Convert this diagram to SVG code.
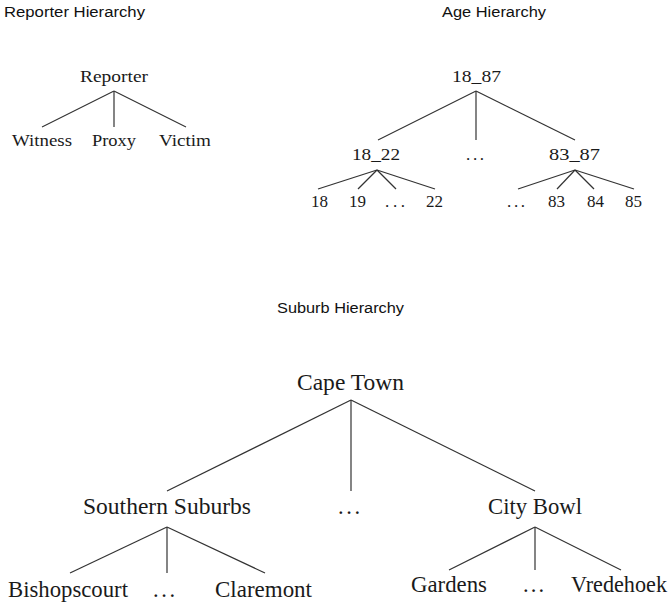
<svg xmlns="http://www.w3.org/2000/svg" width="670" height="605" viewBox="0 0 670 605">
<style>
.title{font-family:"Liberation Sans",Arial,sans-serif;font-size:15.5px;fill:#111}
.s{font-family:"Liberation Serif","Times New Roman",serif;fill:#1a1a1a}
.sm{font-size:16.5px}
.md{font-size:17px}
.lg{font-size:22.5px}
.c{text-anchor:middle}
.edges line{stroke:#333;stroke-width:1.2;fill:none}
</style>
<rect width="670" height="605" fill="#fff"/>
<g id="titles">
<text class="title" x="4" y="17" textLength="141" lengthAdjust="spacingAndGlyphs">Reporter Hierarchy</text>
<text class="title" x="442" y="17" textLength="104" lengthAdjust="spacingAndGlyphs">Age Hierarchy</text>
<text class="title" x="277" y="313" textLength="127" lengthAdjust="spacingAndGlyphs">Suburb Hierarchy</text>
</g>
<g class="edges" id="connectors">
<line x1="114" y1="91" x2="42" y2="127"/>
<line x1="114" y1="91" x2="114" y2="127"/>
<line x1="114" y1="91" x2="186" y2="127"/>
<line x1="476" y1="91" x2="378" y2="140"/>
<line x1="476" y1="91" x2="476" y2="140"/>
<line x1="476" y1="91" x2="575" y2="140"/>
<line x1="377" y1="170" x2="318" y2="189"/>
<line x1="377" y1="170" x2="358" y2="189"/>
<line x1="377" y1="170" x2="396" y2="189"/>
<line x1="377" y1="170" x2="435" y2="189"/>
<line x1="575" y1="170" x2="518" y2="189"/>
<line x1="575" y1="170" x2="557" y2="189"/>
<line x1="575" y1="170" x2="594" y2="189"/>
<line x1="575" y1="170" x2="634" y2="189"/>
<line x1="351" y1="400" x2="167" y2="491"/>
<line x1="351" y1="400" x2="351" y2="491"/>
<line x1="351" y1="400" x2="535" y2="491"/>
<line x1="167" y1="527" x2="70" y2="573"/>
<line x1="167" y1="527" x2="167" y2="573"/>
<line x1="167" y1="527" x2="265" y2="573"/>
<line x1="535" y1="527" x2="449" y2="570"/>
<line x1="535" y1="527" x2="535" y2="570"/>
<line x1="535" y1="527" x2="621" y2="570"/>
</g>
<g id="reporter"><text class="s sm" x="80" y="82" textLength="68" lengthAdjust="spacingAndGlyphs">Reporter</text></g>
<g id="witness"><text class="s sm" x="12" y="146" textLength="60" lengthAdjust="spacingAndGlyphs">Witness</text></g>
<g id="proxy"><text class="s sm" x="92" y="146" textLength="44" lengthAdjust="spacingAndGlyphs">Proxy</text></g>
<g id="victim"><text class="s sm" x="159" y="146" textLength="52" lengthAdjust="spacingAndGlyphs">Victim</text></g>
<g id="age-18_87"><text class="s md" x="452" y="82" textLength="49" lengthAdjust="spacingAndGlyphs">18_87</text></g>
<g id="age-18_22"><text class="s md" x="352" y="160" textLength="48" lengthAdjust="spacingAndGlyphs">18_22</text></g>
<g id="age-mid-dots"><text class="s md" x="466" y="160" textLength="18" lengthAdjust="spacing">. . .</text></g>
<g id="age-83_87"><text class="s md" x="549" y="160" textLength="51" lengthAdjust="spacingAndGlyphs">83_87</text></g>
<g id="age-18"><text class="s md c" x="319.5" y="207">18</text></g>
<g id="age-19"><text class="s md c" x="357.5" y="207">19</text></g>
<g id="age-dots1"><text class="s md" x="385" y="207" textLength="20" lengthAdjust="spacing">. . .</text></g>
<g id="age-22"><text class="s md c" x="434.5" y="207">22</text></g>
<g id="age-dots2"><text class="s md" x="507" y="207" textLength="18" lengthAdjust="spacing">. . .</text></g>
<g id="age-83"><text class="s md c" x="556.5" y="207">83</text></g>
<g id="age-84"><text class="s md c" x="595.5" y="207">84</text></g>
<g id="age-85"><text class="s md c" x="633.5" y="207">85</text></g>
<g id="cape-town"><text class="s lg" x="297" y="390" textLength="107" lengthAdjust="spacingAndGlyphs">Cape Town</text></g>
<g id="southern-suburbs"><text class="s lg" x="83" y="514" textLength="168" lengthAdjust="spacingAndGlyphs">Southern Suburbs</text></g>
<g id="suburb-mid-dots"><text class="s lg" x="338" y="514" textLength="22" lengthAdjust="spacing">. . .</text></g>
<g id="city-bowl"><text class="s lg" x="488" y="514" textLength="94" lengthAdjust="spacingAndGlyphs">City Bowl</text></g>
<g id="bishopscourt"><text class="s lg" x="8" y="597" textLength="120" lengthAdjust="spacingAndGlyphs">Bishopscourt</text></g>
<g id="ss-dots"><text class="s lg" x="153" y="597" textLength="22" lengthAdjust="spacing">. . .</text></g>
<g id="claremont"><text class="s lg" x="215" y="597" textLength="97" lengthAdjust="spacingAndGlyphs">Claremont</text></g>
<g id="gardens"><text class="s lg" x="411" y="592" textLength="76" lengthAdjust="spacingAndGlyphs">Gardens</text></g>
<g id="cb-dots"><text class="s lg" x="523" y="592" textLength="21" lengthAdjust="spacing">. . .</text></g>
<g id="vredehoek"><text class="s lg" x="571" y="592" textLength="96" lengthAdjust="spacingAndGlyphs">Vredehoek</text></g>
</svg>
